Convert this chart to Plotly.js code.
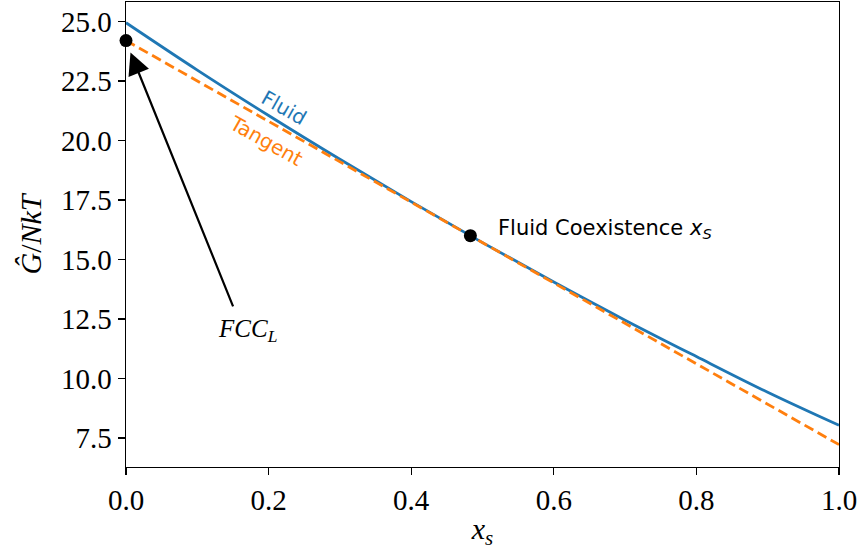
<!DOCTYPE html>
<html>
<head>
<meta charset="utf-8">
<script src="https://cdn.plot.ly/plotly-3.0.1.min.js"></script>
<style>html,body{margin:0;padding:0;background:#fff;}</style>
</head>
<body>
<div id="chart" style="width:859px;height:550px;"></div>
<script>
// Reduced Gibbs free energy of the fluid branch vs. composition
const xs = [0.0, 0.1, 0.2, 0.3, 0.4, 0.5, 0.6, 0.7, 0.8, 0.9, 1.0];
const fluidG = [24.95, 22.96, 21.05, 19.21, 17.43, 15.71, 14.05, 12.45, 10.92, 9.42, 8.03];

// Common tangent line (straight), endpoints
const tangentX = [0.0, 1.0];
const tangentG = [24.2, 7.22];

// Marked points
const fccX = [0.0];
const fccG = [24.2];
const coexX = [0.483];
const coexG = [16.0];

const serif = "Liberation Serif, DejaVu Serif, serif";
const sans = "DejaVu Sans, sans-serif";

const traces = [
  {
    x: xs, y: fluidG, type: "scatter", mode: "lines",
    line: {color: "#1f77b4", width: 2.8, shape: "spline", smoothing: 1.0},
    hoverinfo: "skip", showlegend: false
  },
  {
    x: tangentX, y: tangentG, type: "scatter", mode: "lines",
    line: {color: "#ff7f0e", width: 2.8, dash: "10px,5px"},
    hoverinfo: "skip", showlegend: false
  },
  {
    x: fccX.concat(coexX), y: fccG.concat(coexG), type: "scatter", mode: "markers",
    marker: {color: "#000", size: 13},
    cliponaxis: false,
    hoverinfo: "skip", showlegend: false
  }
];

const layout = {
  width: 859, height: 550,
  margin: {l: 125.5, r: 20, t: 2, b: 83},
  paper_bgcolor: "#fff", plot_bgcolor: "#fff",
  showlegend: false,
  xaxis: {
    range: [0, 1],
    tickvals: [0, 0.2, 0.4, 0.6, 0.8, 1.0],
    ticktext: ["0.0", "0.2", "0.4", "0.6", "0.8", "1.0"],
    ticks: "outside", ticklen: 7, tickwidth: 1.4, tickcolor: "#000",
    showline: true, linecolor: "#000", linewidth: 1.4, mirror: true,
    showgrid: false, zeroline: false,
    tickfont: {family: serif, size: 29, color: "#000"},
    title: {text: "<i>x</i><sub><i>s</i></sub>", font: {family: serif, size: 30, color: "#000"}, standoff: 12}
  },
  yaxis: {
    range: [6.28, 25.82],
    tickvals: [7.5, 10, 12.5, 15, 17.5, 20, 22.5, 25],
    ticktext: ["7.5", "10.0", "12.5", "15.0", "17.5", "20.0", "22.5", "25.0"],
    ticks: "outside", ticklen: 7, tickwidth: 1.4, tickcolor: "#000",
    showline: true, linecolor: "#000", linewidth: 1.4, mirror: true,
    showgrid: false, zeroline: false,
    tickfont: {family: serif, size: 29, color: "#000"},
    title: {text: "<i>Ĝ</i>/<i>NkT</i>", font: {family: serif, size: 30, color: "#000"}, standoff: 10}
  },
  annotations: [
    {
      x: 0.222, y: 21.37, xref: "x", yref: "y", text: "Fluid", showarrow: false,
      textangle: 29.5, font: {family: sans, size: 20, color: "#1f77b4"}
    },
    {
      x: 0.197, y: 19.99, xref: "x", yref: "y", text: "Tangent", showarrow: false,
      textangle: 29.5, font: {family: sans, size: 20, color: "#ff7f0e"}
    },
    {
      x: 0.519, y: 16.29, xref: "x", yref: "y", xanchor: "left",
      text: "Fluid Coexistence <i>x</i><sub><i>S</i></sub>", showarrow: false,
      font: {family: sans, size: 21, color: "#000"}
    },
    {
      x: 0.0063, y: 23.7, xref: "x", yref: "y",
      ax: 0.151, ay: 12.97, axref: "x", ayref: "y",
      text: "", showarrow: true, arrowhead: 2, arrowsize: 2.0, arrowwidth: 2.2, arrowcolor: "#000"
    },
    {
      x: 0.170, y: 12.0, xref: "x", yref: "y",
      text: "<i>FCC</i><sub><i>L</i></sub>", showarrow: false,
      font: {family: serif, size: 25, color: "#000"}
    }
  ]
};

Plotly.newPlot("chart", traces, layout, {displayModeBar: false, staticPlot: true});
</script>
</body>
</html>
